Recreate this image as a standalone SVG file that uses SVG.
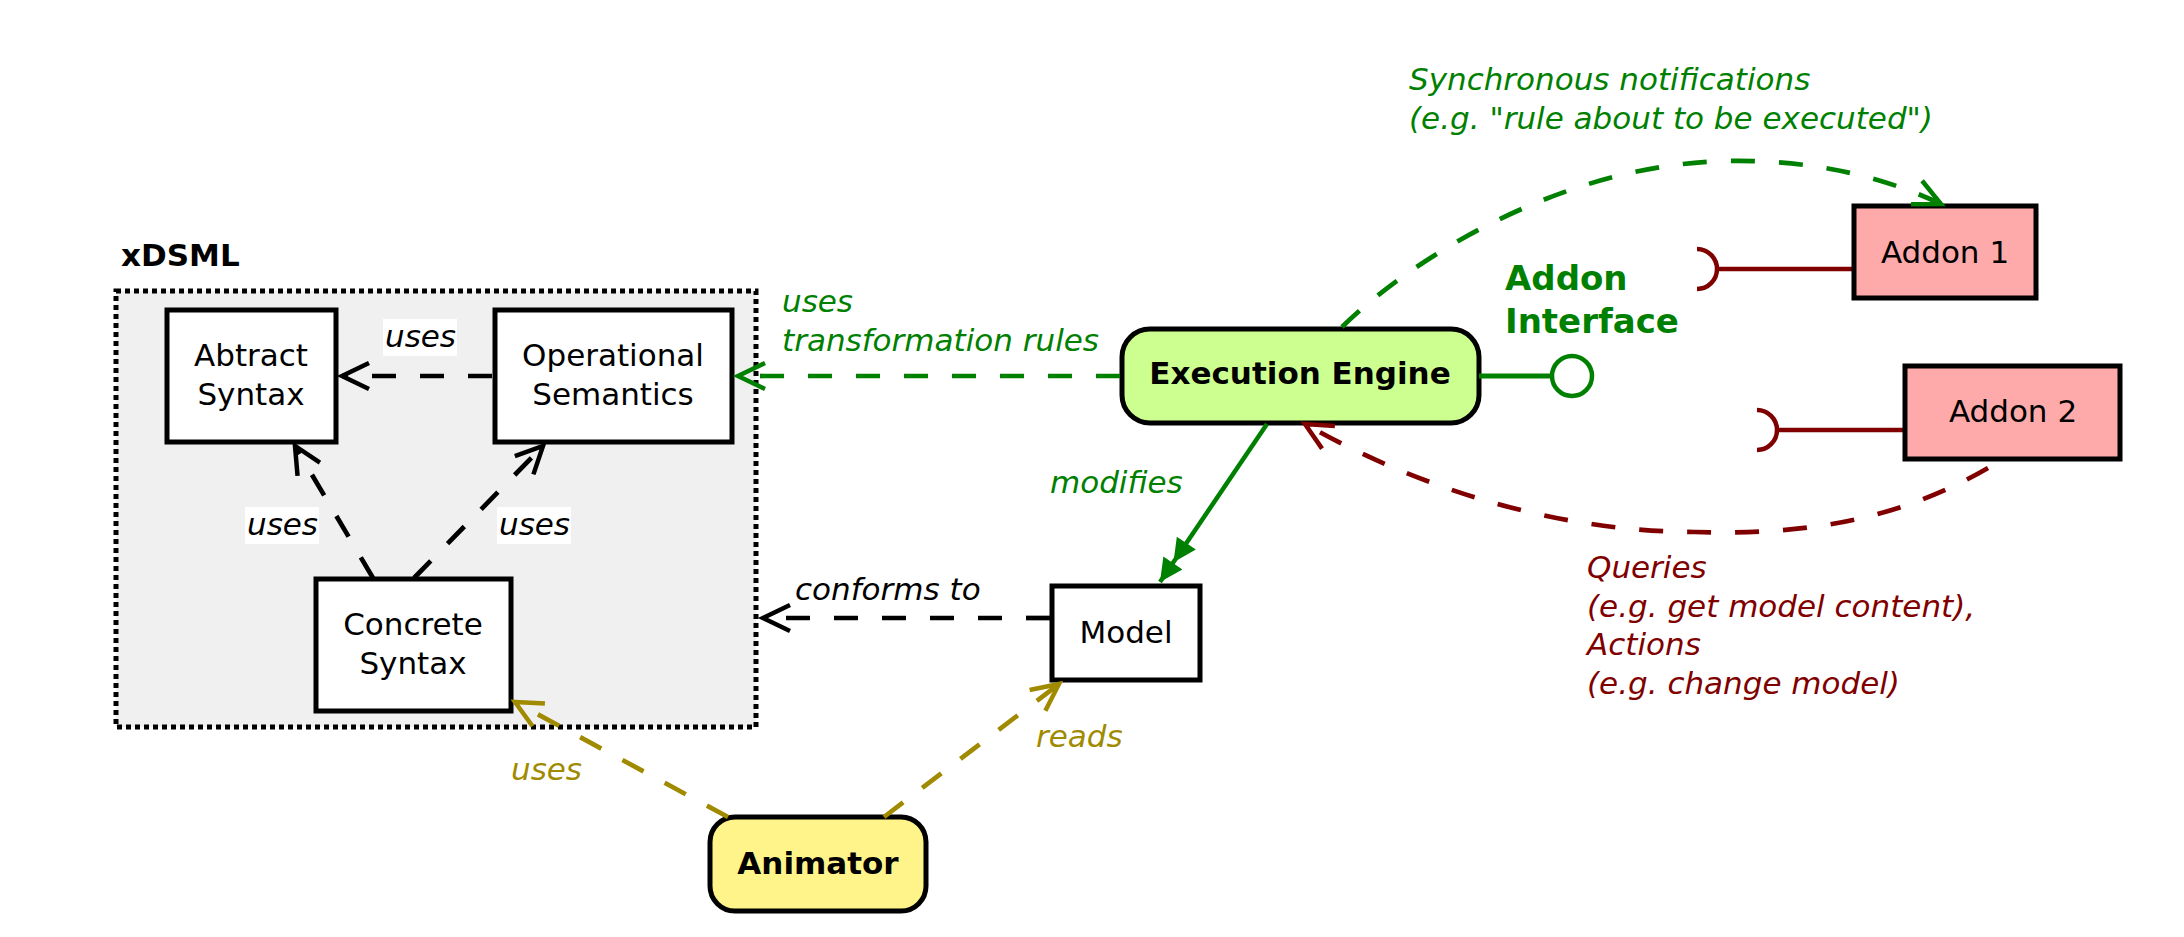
<svg xmlns="http://www.w3.org/2000/svg" width="2184" height="937" viewBox="0 0 2184 937">
<style>
text{font-family:"DejaVu Sans","Liberation Sans",sans-serif;font-size:31px;fill:#000}
.c{text-anchor:middle}
.b{font-weight:bold}
.i{font-style:italic}
.g{fill:#008000}
.r{fill:#800000}
.o{fill:#a08a00}
.box{fill:#fff;stroke:#000;stroke-width:5}
.con{fill:none;stroke-width:4.7;stroke-dasharray:24 24}
.k{stroke:#000}
.gs{stroke:#008000}
.rs{stroke:#800000}
.os{stroke:#a08a00}
.sock{fill:none;stroke:#800000;stroke-width:4.5}
</style>
<defs>
<marker id="ak" markerUnits="userSpaceOnUse" markerWidth="60" markerHeight="60" viewBox="-40 -30 60 60" refX="0" refY="0" orient="auto" overflow="visible"><path d="M-27,-13 L0,0 L-27,13" fill="none" stroke="#000" stroke-width="4.5"/></marker>
<marker id="ag" markerUnits="userSpaceOnUse" markerWidth="60" markerHeight="60" viewBox="-40 -30 60 60" refX="0" refY="0" orient="auto" overflow="visible"><path d="M-27,-13 L0,0 L-27,13" fill="none" stroke="#008000" stroke-width="4.5"/></marker>
<marker id="ar" markerUnits="userSpaceOnUse" markerWidth="60" markerHeight="60" viewBox="-40 -30 60 60" refX="0" refY="0" orient="auto" overflow="visible"><path d="M-27,-13 L0,0 L-27,13" fill="none" stroke="#800000" stroke-width="4.5"/></marker>
<marker id="ao" markerUnits="userSpaceOnUse" markerWidth="60" markerHeight="60" viewBox="-40 -30 60 60" refX="0" refY="0" orient="auto" overflow="visible"><path d="M-27,-13 L0,0 L-27,13" fill="none" stroke="#a08a00" stroke-width="4.5"/></marker>
<marker id="af" markerUnits="userSpaceOnUse" markerWidth="70" markerHeight="60" viewBox="-55 -30 70 60" refX="0" refY="0" orient="auto" overflow="visible"><path d="M0,0 L-23,-11.5 L-23,11.5 Z M-24,0 L-47,-11.5 L-47,11.5 Z" fill="#008000"/></marker>
</defs>

<g id="xdsml">
<rect x="116" y="291" width="640" height="436" fill="#f0f0f0" stroke="#000" stroke-width="5" stroke-dasharray="5 4"/>
<text x="121" y="266" class="b">xDSML</text>
</g>

<g id="abstract-syntax">
<rect class="box" x="167" y="310" width="169" height="132"/>
<text class="c" x="251" y="366">Abtract</text>
<text class="c" x="251" y="405">Syntax</text>
</g>

<g id="operational-semantics">
<rect class="box" x="495" y="310" width="237" height="132"/>
<text class="c" x="613" y="366">Operational</text>
<text class="c" x="613" y="405">Semantics</text>
</g>

<g id="concrete-syntax">
<rect class="box" x="316" y="579" width="195" height="132"/>
<text class="c" x="413" y="635">Concrete</text>
<text class="c" x="413" y="674">Syntax</text>
</g>

<g id="model">
<rect class="box" x="1052" y="586" width="148" height="94"/>
<text class="c" x="1126" y="643">Model</text>
</g>

<g id="execution-engine">
<rect x="1122" y="329" width="357" height="94" rx="28" fill="#ccff90" stroke="#000" stroke-width="5"/>
<text class="c b" x="1300" y="384">Execution Engine</text>
</g>

<g id="addon-interface">
<path d="M1479,376 L1552,376" stroke="#008000" stroke-width="5" fill="none"/>
<circle cx="1572" cy="376" r="20" fill="#fff" stroke="#008000" stroke-width="4.5"/>
<text class="b g" x="1505" y="290" style="font-size:34px">Addon</text>
<text class="b g" x="1505" y="333" style="font-size:34px">Interface</text>
</g>

<g id="addon-1">
<path class="sock" d="M1716,269 L1854,269 M1697,249 A20,20 0 0 1 1697,289"/>
<rect x="1854" y="206" width="182" height="92" fill="#ffaaaa" stroke="#000" stroke-width="5"/>
<text class="c" x="1945" y="263">Addon 1</text>
</g>

<g id="addon-2">
<path class="sock" d="M1777,430 L1905,430 M1757,410 A20,20 0 0 1 1757,450"/>
<rect x="1905" y="366" width="215" height="93" fill="#ffaaaa" stroke="#000" stroke-width="5"/>
<text class="c" x="2013" y="422">Addon 2</text>
</g>

<g id="animator">
<rect x="710" y="817" width="216" height="94" rx="25" fill="#fff48a" stroke="#000" stroke-width="5"/>
<text class="c b" x="818" y="874">Animator</text>
</g>

<g id="connectors">
<path class="con k" d="M492,376 L342,376" marker-end="url(#ak)"/>
<path class="con k" d="M373,578 L295,446" marker-end="url(#ak)"/>
<path class="con k" d="M414,578 L543,446" marker-end="url(#ak)"/>
<path class="con gs" d="M1120,376 L738,376" marker-end="url(#ag)"/>
<path class="con k" d="M1050,618 L763,618" marker-end="url(#ak)"/>
<path d="M1267,424 L1160,582" fill="none" stroke="#008000" stroke-width="4.5" marker-end="url(#af)"/>
<path class="con gs" d="M1342,327 C1410,260 1560,165 1725,161 C1820,159 1890,180 1941,204" marker-end="url(#ag)"/>
<path class="con rs" d="M1988,468 C1890,525 1790,535 1695,532 C1570,532 1430,495 1305,424" marker-end="url(#ar)"/>
<path class="con os" d="M728,817 L515,702" marker-end="url(#ao)"/>
<path class="con os" d="M884,817 L1059,684" marker-end="url(#ao)"/>

<rect x="383" y="319" width="74" height="37" fill="#fff"/>
<text class="i" x="385" y="347">uses</text>
<rect x="245" y="507" width="74" height="37" fill="#fff"/>
<text class="i" x="247" y="535">uses</text>
<rect x="497" y="507" width="74" height="37" fill="#fff"/>
<text class="i" x="499" y="535">uses</text>
<text class="i g" x="782" y="312">uses</text>
<text class="i g" x="782" y="351">transformation rules</text>
<text class="i" x="795" y="600">conforms to</text>
<text class="i g" x="1050" y="493">modifies</text>
<text class="i g" x="1409" y="90">Synchronous notifications</text>
<text class="i g" x="1409" y="129">(e.g. "rule about to be executed")</text>
<text class="i r" x="1587" y="578">Queries</text>
<text class="i r" x="1587" y="617">(e.g. get model content),</text>
<text class="i r" x="1587" y="655">Actions</text>
<text class="i r" x="1587" y="694">(e.g. change model)</text>
<text class="i o" x="511" y="780">uses</text>
<text class="i o" x="1036" y="747">reads</text>
</g>
</svg>
